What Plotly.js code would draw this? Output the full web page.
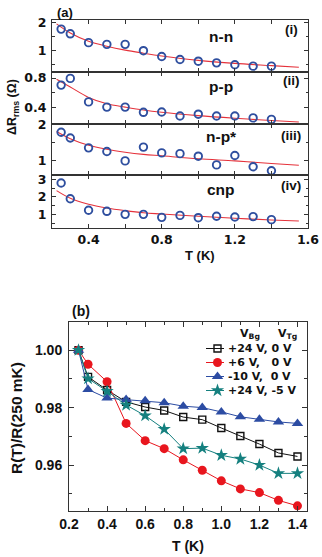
<!DOCTYPE html>
<html><head><meta charset="utf-8">
<script src="https://cdn.plot.ly/plotly-3.0.1.min.js"></script>
<style>html,body{margin:0;padding:0;background:#fff}#c{width:322px;height:557px}</style>
</head><body><div id="c"></div>
<script>
// ---- Panel (a) data ----
var T = [0.25,0.3,0.4,0.5,0.6,0.7,0.8,0.9,1.0,1.1,1.2,1.3,1.4];
var nn  = [1.77,1.60,1.28,1.22,1.22,0.99,0.78,0.67,0.61,0.55,0.48,0.43,0.43];
var pp  = [0.705,0.795,0.48,0.41,0.41,0.34,0.345,0.29,0.315,0.29,0.29,0.265,0.245];
var npS = [1.79,1.63,1.36,1.26,1.0,1.38,1.22,1.2,1.13,0.89,1.15,0.84,0.73];
var cnp = [2.79,1.9,1.25,1.19,1.02,1.02,0.85,0.96,0.83,0.91,0.87,0.89,0.72];
var fitT   = [0.225,0.3,0.4,0.5,0.6,0.7,0.8,1.0,1.2,1.4,1.55];
var fitNN  = [1.96,1.63,1.33,1.15,1.01,0.90,0.80,0.64,0.53,0.45,0.39];
var fitPP  = [0.785,0.68,0.54,0.455,0.41,0.37,0.34,0.295,0.26,0.23,0.21];
var fitNP  = [1.81,1.61,1.43,1.32,1.24,1.18,1.14,1.06,1.0,0.93,0.88];
var fitCNP = [2.36,1.93,1.59,1.38,1.23,1.11,1.04,0.91,0.80,0.70,0.64];
var panelNames = ['n-n','p-p','n-p*','cnp'];
var panelTags = ['(i)','(ii)','(iii)','(iv)'];
var xTicksA = [0.4,0.8,1.2,1.6];
var xTickTextA = ['0.4','0.8','1.2','1.6'];

// ---- Panel (b) data ----
var Tb = [0.25,0.3,0.4,0.5,0.6,0.7,0.8,0.9,1.0,1.1,1.2,1.3,1.4];
var sq   = [1.0,0.9907,0.9861,0.982,0.9802,0.979,0.9767,0.9758,0.9729,0.9701,0.9673,0.9642,0.963];
var rc   = [1.0,0.9951,0.989,0.9745,0.9685,0.9657,0.9618,0.9582,0.9545,0.9517,0.9504,0.9477,0.9458];
var tri  = [1.0,0.9863,0.9833,0.9828,0.9824,0.9817,0.9805,0.98,0.9785,0.9768,0.9759,0.975,0.9745];
var star = [1.0,0.9901,0.9857,0.9809,0.9772,0.9725,0.9657,0.9659,0.9634,0.9621,0.96,0.9571,0.9571];
var seriesNames = ['+24 V, 0 V','+6 V,\u00a0\u00a0\u00a00 V','-10 V,\u00a0\u00a00 V','+24 V, -5 V'];
var yTicksB = [0.96,0.98,1.00];
var yTickTextB = ['0.96','0.98','1.00'];

// ---- layout helpers ----
var W = 322, H = 557;
function px(x){return x/W;}
function py(y){return 1 - y/H;}
var BLUE = '#2f4f9f', RED = '#e5323b';
var seriesStyle = [
  {color:'#111', symbol:'square-open', size:7, lw:1.4, fill:'#111'},
  {color:'#e8161e', symbol:'circle', size:9, lw:0, fill:'#e8161e'},
  {color:'#2c4ca3', symbol:'triangle-up', size:10, lw:0, fill:'#2c4ca3'},
  {color:'#15807f', symbol:'star', size:10, lw:0, fill:'#15807f'}
];

var aSeries = [nn, pp, npS, cnp];
var aFits = [fitNN, fitPP, fitNP, fitCNP];
var aRanges = [[0.23,2.1],[0.19,0.885],[0.62,2.03],[0.23,3.26]];
var aTicks = [[1,2],[0.4,0.8],[1,2],[1,2,3]];
var aMinor = [0.5,0.2,0.5,0.5];
var aBounds = [[20,71.7],[71.7,123.5],[123.5,174.7],[174.7,228.3]];

var data = [];
var layout = {
  width: W, height: H, margin:{l:0,r:0,t:0,b:0},
  paper_bgcolor:'#fff', plot_bgcolor:'rgba(0,0,0,0)', showlegend:false,
  annotations: [], shapes: []
};
var fa = {family:'DejaVu Sans', size:12.5, color:'#111', weight:'bold'};
var fl = {family:'Liberation Sans', size:14, color:'#111', weight:'bold'};

for (var i=0;i<4;i++){
  var sfx = i===0 ? '' : String(i+1);
  data.push({x:fitT, y:aFits[i], mode:'lines', line:{color:RED, width:1.1, shape:'spline'}, xaxis:'x'+sfx, yaxis:'y'+sfx, hoverinfo:'skip'});
  data.push({x:T, y:aSeries[i], mode:'markers', marker:{symbol:'circle-open', size:7.5, color:BLUE, line:{width:1.9, color:BLUE}}, xaxis:'x'+sfx, yaxis:'y'+sfx});
  var b = aBounds[i];
  layout['xaxis'+sfx] = {
    domain:[px(52),px(308)], range:[0.2,1.6], anchor:'y'+sfx,
    showline:true, linecolor:'#333', linewidth:1, mirror:'ticks',
    ticks:'inside', ticklen:4, tickwidth:1, tickcolor:'#333',
    tickvals:xTicksA, ticktext:xTickTextA,
    minor:{dtick:0.2, tick0:0.2, ticks:'inside', ticklen:4, tickcolor:'#333', showgrid:false},
    showticklabels: i===3, tickfont:fa, showgrid:false, zeroline:false, fixedrange:true
  };
  layout['yaxis'+sfx] = {
    domain:[py(b[1]),py(b[0])], range:aRanges[i], anchor:'x'+sfx,
    showline:true, linecolor:'#333', linewidth:1, mirror:'ticks',
    ticks:'inside', ticklen:4, tickwidth:1, tickcolor:'#333',
    tickvals:aTicks[i], ticktext:aTicks[i].map(String), tickfont:fa,
    minor:{dtick:aMinor[i], tick0:aMinor[i], ticks:'inside', ticklen:2.5, tickcolor:'#333', showgrid:false},
    ticklabelstandoff:2, showgrid:false, zeroline:false, fixedrange:true
  };
  layout.annotations.push({xref:'paper', yref:'paper', x:px(221), y:py([37,87,136,190][i]), text:panelNames[i], showarrow:false, xanchor:'center', yanchor:'middle', font:{family:'Liberation Sans', size:15.5, color:'#111', weight:'bold'}});
  layout.annotations.push({xref:'paper', yref:'paper', x:px(291), y:py([30,81,135,185][i]), text:panelTags[i], showarrow:false, xanchor:'center', yanchor:'middle', font:{family:'Liberation Sans', size:13.5, color:'#111', weight:'bold'}});
}

// panel (b)
var bData = [sq, rc, tri, star];
for (var j=0;j<4;j++){
  var st = seriesStyle[j];
  data.push({x:Tb, y:bData[j], mode:'lines+markers', name:seriesNames[j], xaxis:'x5', yaxis:'y5',
    line:{color:st.color, width:1},
    marker:{symbol:st.symbol, size:st.size, color:st.fill, line:{width:st.lw, color:st.color}}});
}
layout.xaxis5 = {
  domain:[px(69),px(307)], range:[0.2,1.45], anchor:'y5',
  showline:true, linecolor:'#333', linewidth:1, mirror:'ticks',
  ticks:'inside', ticklen:5, tickwidth:1, tickcolor:'#333',
  tick0:0.2, dtick:0.2, tickformat:'.1f', tickfont:fl,
  minor:{dtick:0.1, tick0:0.2, ticks:'inside', ticklen:3, tickcolor:'#333', showgrid:false},
  showgrid:false, zeroline:false, fixedrange:true
};
layout.yaxis5 = {
  domain:[py(511),py(322)], range:[0.944,1.0098], anchor:'x5',
  showline:true, linecolor:'#333', linewidth:1, mirror:'ticks',
  ticks:'inside', ticklen:5, tickwidth:1, tickcolor:'#333',
  tickvals:yTicksB, ticktext:yTickTextB, tickfont:fl,
  minor:{dtick:0.01, tick0:0.95, ticks:'inside', ticklen:3, tickcolor:'#333', showgrid:false},
  ticklabelstandoff:3, showgrid:false, zeroline:false, fixedrange:true
};

// legend keys (b) drawn on an invisible pixel-space overlay axis
layout.xaxis6 = {domain:[0,1], range:[0,W], visible:false, fixedrange:true, anchor:'y6'};
layout.yaxis6 = {domain:[0,1], range:[H,0], visible:false, fixedrange:true, anchor:'x6'};
var legRows = [348.5,362.5,376.5,390.5];
var legX0 = 206, legX1 = 224, legXm = 217.5, legText = 226;
for (var k=0;k<4;k++){
  var s2 = seriesStyle[k];
  data.push({x:[legX0,legX1], y:[legRows[k],legRows[k]], mode:'lines', line:{color:s2.color,width:1}, xaxis:'x6', yaxis:'y6', hoverinfo:'skip'});
  data.push({x:[legXm], y:[legRows[k]], mode:'markers', marker:{symbol:s2.symbol, size:s2.size, color:s2.fill, line:{width:s2.lw, color:s2.color}}, xaxis:'x6', yaxis:'y6', hoverinfo:'skip'});
  layout.annotations.push({xref:'paper', yref:'paper', x:px(legText), y:py(legRows[k]), text:seriesNames[k], showarrow:false, xanchor:'left', yanchor:'middle', font:{family:'DejaVu Sans', size:11, color:'#111', weight:'bold'}});
}
layout.annotations.push({xref:'paper', yref:'paper', x:px(238), y:py(334), text:'V<sub>Bg</sub>', showarrow:false, xanchor:'left', yanchor:'middle', font:{family:'DejaVu Sans', size:11, color:'#111', weight:'bold'}});
layout.annotations.push({xref:'paper', yref:'paper', x:px(276), y:py(334), text:'V<sub>Tg</sub>', showarrow:false, xanchor:'left', yanchor:'middle', font:{family:'DejaVu Sans', size:11, color:'#111', weight:'bold'}});

// titles & labels
var tf = {family:'Liberation Sans', size:13, color:'#111', weight:'bold'};
layout.annotations.push({xref:'paper', yref:'paper', x:px(55), y:py(12), text:'(a)', showarrow:false, xanchor:'left', yanchor:'middle', font:tf});
layout.annotations.push({xref:'paper', yref:'paper', x:px(70), y:py(311), text:'(b)', showarrow:false, xanchor:'left', yanchor:'middle', font:{family:'Liberation Sans', size:14, color:'#111', weight:'bold'}});
layout.annotations.push({xref:'paper', yref:'paper', x:px(200), y:py(255), text:'T (K)', showarrow:false, xanchor:'center', yanchor:'middle', font:tf});
layout.annotations.push({xref:'paper', yref:'paper', x:px(188), y:py(546), text:'T (K)', showarrow:false, xanchor:'center', yanchor:'middle', font:{family:'Liberation Sans', size:14, color:'#111', weight:'bold'}});
layout.annotations.push({xref:'paper', yref:'paper', x:px(13), y:py(107), text:'ΔR<sub>rms</sub> (Ω)', textangle:-90, showarrow:false, xanchor:'center', yanchor:'middle', font:{family:'Liberation Sans', size:12.5, color:'#111', weight:'bold'}});
layout.annotations.push({xref:'paper', yref:'paper', x:px(16), y:py(418), text:'R(T)/R(250 mK)', textangle:-90, showarrow:false, xanchor:'center', yanchor:'middle', font:{family:'Liberation Sans', size:15.5, color:'#111', weight:'bold'}});

Plotly.newPlot('c', data, layout, {staticPlot:true, displayModeBar:false});
</script></body></html>
